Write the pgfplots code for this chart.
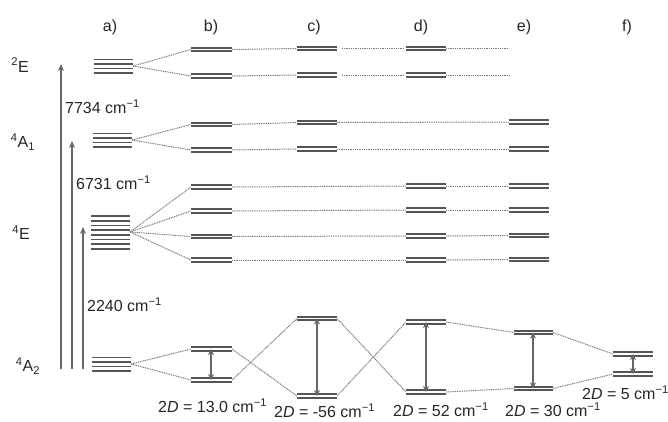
\documentclass[border=0pt]{standalone}
\usepackage{pgfplots}
\pgfplotsset{compat=1.18}
\usepackage{pgfplotstable}
\usepackage{fontspec}
\setmainfont{Liberation Sans}
\usetikzlibrary{arrows.meta}
\definecolor{levgray}{HTML}{555555}
\definecolor{dotgray}{HTML}{777777}
\definecolor{arrgray}{HTML}{666666}
\definecolor{txt}{HTML}{262626}

% double bars: x y u (length), v=0
\pgfplotstableread{
x y u
191 49.5 41
191 76 41
191 124.5 41
191 150 41
191 187 41
191 211 41
191 236.5 41
191 260 41
191 349 41
191 380 41
297 48.5 40
297 75 40
297 122.5 40
297 149 40
297 318.5 40
297 396 40
406 48.5 40
406 75 40
406 186 40
406 210 40
406 236 40
406 260 40
406 322 40
406 392 40
509 122 40
509 149 40
509 186 40
509 210 40
509 235.5 40
509 259.5 40
514 332.5 39
514 388.5 39
613 354 40
613 374 40
}\doublebars

% column a stacked lines
\pgfplotstableread{
x y u
94 59.5 39
94 64 39
94 68.5 39
94 73 39
93 133.5 39
93 138 39
93 142.5 39
93 147 39
91 216 39
91 220.7 39
91 225.4 39
91 230.1 39
91 234.9 39
91 239.6 39
91 244.3 39
91 249 39
92 357.5 39
92 362 39
92 366.5 39
92 371 39
}\stackbars

% dotted connectors: x y u v
\pgfplotstableread{
x y u v
133 66 58 -16.5
133 66 58 10
232 49.5 65 -1
232 76 65 -1
342 48.5 62 0
342 75 62 0
446 48.5 62 0
446 75 64 0
132 140 59 -15.5
132 140 59 10
232 124.5 65 -2
232 150 65 -1
337 122.5 172 -0.5
337 149 172 0
130 232 61 -45
130 232 61 -21
130 232 61 4.5
130 232 61 28
232 187 174 -1
232 211 174 -1
232 236.5 174 -0.5
232 260 174 0
446 186 63 0
446 210 63 0
446 236 63 -0.5
446 260 63 -0.5
131 364 60 -15
131 364 60 16
232 349 65 47
232 380 65 -61.5
337 318.5 69 73.5
337 396 69 -74
446 322 68 10.5
446 392 68 -3.5
553 332.5 60 21.5
553 388.5 60 -14.5
}\connectors

% double-headed arrows (2D)
\pgfplotstableread{
x y u v
211 349 0 31
317 318.5 0 77.5
426 322 0 70
533 332.5 0 56
633 354 0 20
}\darrows

% excitation arrows
\pgfplotstableread{
x y u v
61 369 0 -305
72 369 0 -228
83 369 0 -142
}\exarrows

\begin{document}
\begin{tikzpicture}
\useasboundingbox (0,0) rectangle (668pt,421pt);
\begin{axis}[
  at={(0,0)}, anchor=south west,
  scale only axis, width=668pt, height=421pt,
  xmin=0, xmax=668, ymin=0, ymax=421,
  y dir=reverse, hide axis, clip=false,
]
\addplot[dotgray, line width=1pt, dash pattern=on 1pt off 0.8pt, mark=none,
  quiver={u=\thisrow{u}, v=\thisrow{v}}] table {\connectors};
\addplot[levgray, line width=5.4pt, mark=none,
  quiver={u=\thisrow{u}, v=0}] table {\doublebars};
\addplot[white, line width=1.1pt, mark=none,
  quiver={u=\thisrow{u}, v=0}] table {\doublebars};
\addplot[levgray, line width=1.7pt, mark=none,
  quiver={u=\thisrow{u}, v=0}] table {\stackbars};
\addplot[arrgray, line width=1.2pt, mark=none, {Stealth[length=6pt,width=6pt]}-{Stealth[length=6pt,width=6pt]},
  quiver={u=\thisrow{u}, v=\thisrow{v}}] table {\darrows};
\addplot[arrgray, line width=1.2pt, mark=none, -{Stealth[length=7pt,width=6pt]},
  quiver={u=\thisrow{u}, v=\thisrow{v}}] table {\exarrows};

\begin{scope}[every node/.style={text=txt, font=\fontsize{16}{18}\selectfont, inner sep=0pt}]
\node at (axis cs:110,27) {a)};
\node at (axis cs:211,27) {b)};
\node at (axis cs:314,27) {c)};
\node at (axis cs:421,27) {d)};
\node at (axis cs:524,27) {e)};
\node at (axis cs:627,27) {f)};
\node at (axis cs:20,65) {\textsuperscript{2}E};
\node at (axis cs:23,142) {\textsuperscript{4}A\textsubscript{1}};
\node at (axis cs:21,233) {\textsuperscript{4}E};
\node at (axis cs:28,366) {\textsuperscript{4}A\textsubscript{2}};
\node[anchor=west] at (axis cs:65,107) {7734 cm\textsuperscript{−1}};
\node[anchor=west] at (axis cs:76,183) {6731 cm\textsuperscript{−1}};
\node[anchor=west] at (axis cs:87,305) {2240 cm\textsuperscript{−1}};
\node[anchor=west] at (axis cs:158,406) {2\textit{D} = 13.0 cm\textsuperscript{−1}};
\node[anchor=west] at (axis cs:274,411) {2\textit{D} = -56 cm\textsuperscript{−1}};
\node[anchor=west] at (axis cs:393,410) {2\textit{D} = 52 cm\textsuperscript{−1}};
\node[anchor=west] at (axis cs:505,410) {2\textit{D} = 30 cm\textsuperscript{−1}};
\node[anchor=west] at (axis cs:582,393) {2\textit{D} = 5 cm\textsuperscript{−1}};
\end{scope}
\end{axis}
\end{tikzpicture}
\end{document}
